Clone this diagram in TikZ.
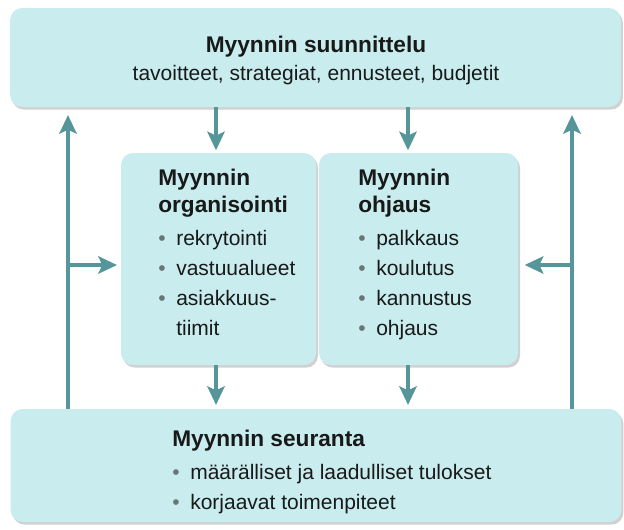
\documentclass[tikz,border=0pt]{standalone}
\usepackage{fontspec}
\setmainfont{Liberation Sans}
\usepackage{tikz}
\usetikzlibrary{arrows.meta, positioning, shadows, calc}
\definecolor{boxcyan}{RGB}{201,237,238}
\definecolor{arrteal}{RGB}{86,150,155}
\definecolor{bulgray}{RGB}{105,118,118}
\definecolor{txtdark}{RGB}{25,25,25}
\tikzset{
  basebox/.style={rectangle,rounded corners=9pt,fill=boxcyan,inner sep=0pt,outer sep=0pt,
    drop shadow={shadow xshift=1.5pt,shadow yshift=-2pt,opacity=0.3,fill=black!60}},
  widebox/.style={basebox,minimum width=458pt},
  midbox/.style={basebox,minimum height=159pt},
  headtxt/.style={anchor=north,align=center,inner sep=0pt,text=txtdark,font=\fontsize{15.75}{21}\selectfont},
  listtxt/.style={anchor=north west,align=left,inner sep=0pt,text=txtdark,font=\fontsize{15.75}{22.5}\selectfont},
  arr/.style={-{Stealth[length=14pt,width=13pt,inset=3pt]},line width=3.5pt,color=arrteal}
}
\newcommand{\blt}{\makebox[13.5pt][l]{\textcolor{bulgray}{\textbullet}}}
\newcommand{\hd}[1]{{\bfseries\fontsize{17}{20}\selectfont #1}}

\begin{document}
\begin{tikzpicture}[x=0.75pt,y=-0.75pt]
  \useasboundingbox (0,0) rectangle (624,529);

  %% Boxes
  \node[widebox,minimum height=74.25pt] (plan) at (315.5,57.5) {};
  \node[midbox,minimum width=146.25pt] (org) at (218.5,259) {};
  \node[midbox,minimum width=149.25pt] (ohj) at (418.5,259) {};
  \node[widebox,minimum height=84.75pt] (seur) at (316,465.5) {};

  %% Texts
  \node[headtxt] (plantxt) at (316,36)
    {\hd{Myynnin suunnittelu}\\tavoitteet, strategiat, ennusteet, budjetit};
  \node[listtxt] (orgtxt) at (158,169)
    {\hd{Myynnin}\\[-2.25pt]\hd{organisointi}\\[2.25pt]\blt rekrytointi\\\blt vastuualueet\\\blt asiakkuus-\\\hspace*{13.5pt}tiimit};
  \node[listtxt] (ohjtxt) at (358,169)
    {\hd{Myynnin}\\[-2.25pt]\hd{ohjaus}\\[2.25pt]\blt palkkaus\\\blt koulutus\\\blt kannustus\\\blt ohjaus};
  \node[listtxt] (seurtxt) at (172,430)
    {\hd{Myynnin seuranta}\\[2.25pt]\blt määrälliset ja laadulliset tulokset\\\blt korjaavat toimenpiteet};

  %% Arrows
  \coordinate (colL) at (216,0);
  \coordinate (colR) at (408,0);
  \coordinate (sideL) at (68,265);
  \coordinate (sideR) at (572,265);
  \draw[arr,shorten >=2pt] (plan.south -| colL) -- (org.north -| colL);
  \draw[arr,shorten >=2pt] (plan.south -| colR) -- (ohj.north -| colR);
  \draw[arr,shorten >=3pt] (org.south -| colL) -- (seur.north -| colL);
  \draw[arr,shorten >=3pt] (ohj.south -| colR) -- (seur.north -| colR);
  \draw[arr,shorten >=6pt] (seur.north -| sideL) -- (plan.south -| sideL);
  \draw[arr,shorten >=6pt] (seur.north -| sideR) -- (plan.south -| sideR);
  \draw[arr,shorten >=3pt] (sideL) -- (sideL -| org.west);
  \draw[arr,shorten >=5pt] (sideR) -- (sideR -| ohj.east);
\end{tikzpicture}
\end{document}
